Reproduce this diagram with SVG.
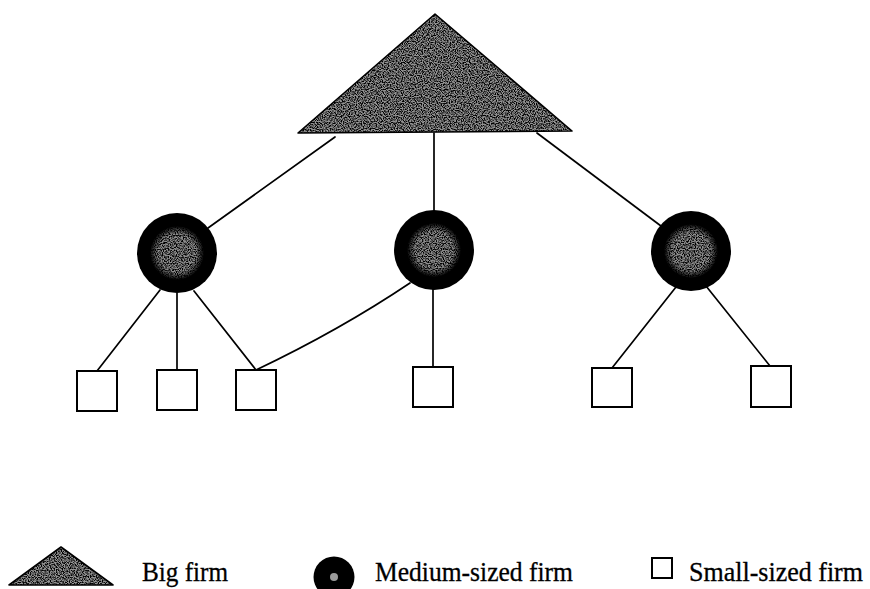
<svg xmlns="http://www.w3.org/2000/svg" width="870" height="589" viewBox="0 0 870 589">
  <style>
    .link { stroke: #000; stroke-width: 1.7; fill: none; stroke-linecap: round; }
    .small { fill: #fff; stroke: #000; stroke-width: 2; }
    .tri { fill: #939393; stroke: #000; stroke-width: 1.6; stroke-linejoin: round; }
    .ring { fill: #000; }
    .grain { fill: #000; filter: url(#speckle); }
    .label { font-family: "Liberation Serif", "Times New Roman", serif; font-size: 27px; fill: #000; stroke: #000; stroke-width: 0.3; }
  </style>
  <defs>
    <!-- stipple texture: random black dots clipped to the shape they are applied to -->
    <filter id="speckle" x="0" y="0" width="1" height="1">
      <feTurbulence type="fractalNoise" baseFrequency="0.85" numOctaves="1" seed="7" result="noise"/>
      <feColorMatrix in="noise" type="matrix" values="0 0 0 0 0  0 0 0 0 0  0 0 0 0 0  4 0 0 0 -1.6" result="dots"/>
      <feComposite in="dots" in2="SourceGraphic" operator="in"/>
    </filter>
    <radialGradient id="coreFade" cx="0.5" cy="0.5" r="0.5">
      <stop offset="0.7" stop-color="#8e8e8e"/>
      <stop offset="1" stop-color="#000"/>
    </radialGradient>
  </defs>

  <rect width="870" height="589" fill="#fff"/>

  <!-- connectors -->
  <g id="connectors">
    <line class="link" x1="335" y1="137" x2="208" y2="228"/>
    <line class="link" x1="434" y1="133" x2="434" y2="211"/>
    <line class="link" x1="537" y1="133" x2="661" y2="226"/>
    <line class="link" x1="160" y1="290" x2="97" y2="371"/>
    <line class="link" x1="177" y1="293" x2="177" y2="370"/>
    <line class="link" x1="194" y1="291" x2="256" y2="370"/>
    <path class="link" d="M256 370 Q340 330 410 283"/>
    <line class="link" x1="433" y1="289" x2="433" y2="367"/>
    <line class="link" x1="676" y1="287" x2="612" y2="368"/>
    <line class="link" x1="706" y1="286" x2="770" y2="366"/>
  </g>

  <!-- big firm -->
  <g id="big-firm">
    <polygon class="tri" points="435,14 572,131 298,133"/>
    <polygon class="grain" points="435,14 572,131 298,133"/>
  </g>

  <!-- medium-sized firms -->
  <g id="medium-1">
    <circle class="ring" cx="177" cy="253" r="40"/>
    <circle cx="177" cy="253" r="27" fill="url(#coreFade)"/>
    <circle class="grain" cx="177" cy="253" r="27"/>
  </g>
  <g id="medium-2">
    <circle class="ring" cx="434" cy="250" r="40"/>
    <circle cx="434" cy="250" r="27" fill="url(#coreFade)"/>
    <circle class="grain" cx="434" cy="250" r="27"/>
  </g>
  <g id="medium-3">
    <circle class="ring" cx="691" cy="251" r="40"/>
    <circle cx="691" cy="251" r="27" fill="url(#coreFade)"/>
    <circle class="grain" cx="691" cy="251" r="27"/>
  </g>

  <!-- small-sized firms -->
  <g id="small-1"><rect class="small" x="77" y="371" width="40" height="40"/></g>
  <g id="small-2"><rect class="small" x="157" y="370" width="40" height="40"/></g>
  <g id="small-3"><rect class="small" x="236" y="370" width="40" height="40"/></g>
  <g id="small-4"><rect class="small" x="413" y="367" width="40" height="40"/></g>
  <g id="small-5"><rect class="small" x="592" y="368" width="40" height="39"/></g>
  <g id="small-6"><rect class="small" x="751" y="366" width="40" height="41"/></g>

  <!-- legend -->
  <g id="legend">
    <g id="legend-big">
      <polygon class="tri" points="61,547 113,585 9,585"/>
      <polygon class="grain" points="61,547 113,585 9,585"/>
      <text class="label" x="142" y="581" textLength="86" lengthAdjust="spacingAndGlyphs">Big firm</text>
    </g>
    <g id="legend-medium">
      <circle class="ring" cx="334" cy="577" r="20.5"/>
      <circle cx="334" cy="577" r="4" fill="#9a9a9a"/>
      <text class="label" x="375" y="581" textLength="198" lengthAdjust="spacingAndGlyphs">Medium-sized firm</text>
    </g>
    <g id="legend-small">
      <rect class="small" x="652" y="558" width="20" height="20" stroke-width="1.8"/>
      <text class="label" x="689" y="581" textLength="174" lengthAdjust="spacingAndGlyphs">Small-sized firm</text>
    </g>
  </g>
</svg>
